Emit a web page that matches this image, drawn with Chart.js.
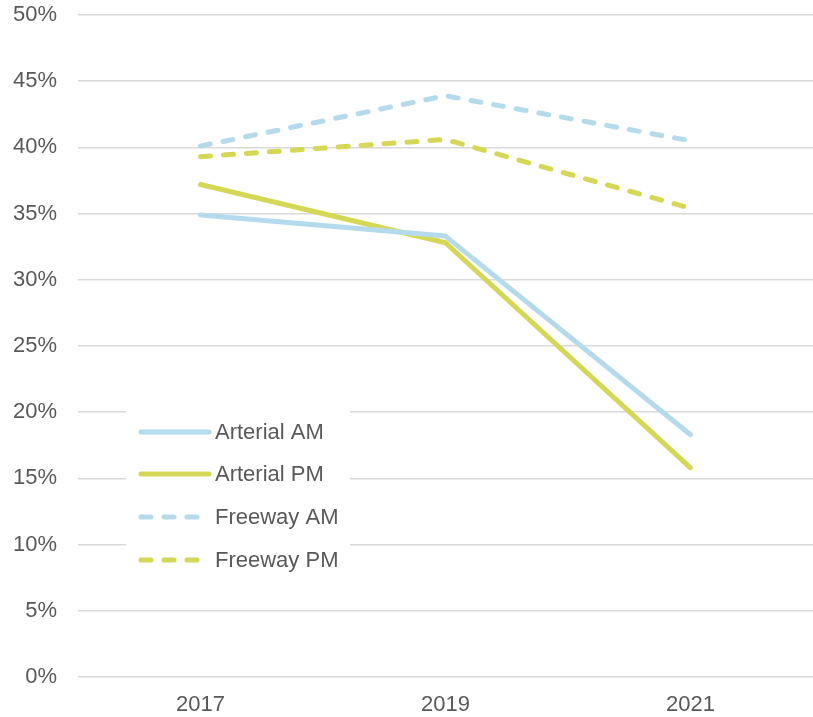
<!DOCTYPE html>
<html>
<head>
<meta charset="utf-8">
<script src="https://cdn.jsdelivr.net/npm/chart.js@4/dist/chart.umd.min.js"></script>
<style>
  html, body { margin: 0; padding: 0; background: #fff; }
  #wrap { position: relative; width: 813px; height: 717px; }
</style>
</head>
<body>
<div id="wrap"><canvas id="line-chart"></canvas></div>
<script>
// values (percent)
const years = ["2017", "2019", "2021"];
const arterialAM = [34.9, 33.3, 18.3];
const arterialPM = [37.2, 32.8, 15.8];
const freewayAM = [40.1, 43.9, 40.5];
const freewayPM = [39.3, 40.6, 35.4];
const yMin = 0, yMax = 50, yStep = 5;

const BLUE = "#b5daec";
const GREEN = "#d5d757";
const TEXT = "#595959";
const FONT = "'Liberation Sans', Arial, sans-serif";
const FONT_SIZE = 22;

function series(label, values, color, dashed) {
  return {
    label: label,
    data: values,
    borderColor: color,
    backgroundColor: color,
    borderWidth: 5,
    borderCapStyle: "round",
    borderJoinStyle: "round",
    borderDash: dashed ? [10, 13] : [],
    pointRadius: 0,
    pointHoverRadius: 0,
    tension: 0,
    fill: false,
  };
}

// legend sits inside the plot on a white box, like the original
const insideLegend = {
  id: "insideLegend",
  beforeDatasetsDraw(chart) {
    const ctx = chart.ctx;
    ctx.save();
    ctx.fillStyle = "#fff";
    ctx.fillRect(126, 404, 224, 178);
    const rows = [432, 474, 517, 560];
    chart.data.datasets.forEach((ds, i) => {
      const y = rows[i];
      ctx.beginPath();
      ctx.lineWidth = 5;
      ctx.lineCap = "round";
      ctx.strokeStyle = ds.borderColor;
      ctx.setLineDash(ds.borderDash.length ? [10, 13] : []);
      ctx.moveTo(141, y);
      ctx.lineTo(209, y);
      ctx.stroke();
      ctx.setLineDash([]);
      ctx.fillStyle = TEXT;
      ctx.font = FONT_SIZE + "px " + FONT;
      ctx.textBaseline = "middle";
      ctx.textAlign = "left";
      ctx.fillText(ds.label, 215, y + 1);
    });
    ctx.restore();
  },
};

new Chart(document.getElementById("line-chart").getContext("2d"), {
  type: "line",
  data: {
    labels: years,
    datasets: [
      series("Arterial AM", arterialAM, BLUE, false),
      series("Arterial PM", arterialPM, GREEN, false),
      series("Freeway AM", freewayAM, BLUE, true),
      series("Freeway PM", freewayPM, GREEN, true),
    ],
  },
  options: {
    responsive: true,
    maintainAspectRatio: false,
    animation: false,
    layout: { padding: { top: 15, right: 0, left: 0, bottom: 0 } },
    plugins: {
      legend: { display: false },
      tooltip: { enabled: false },
    },
    scales: {
      x: {
        offset: true,
        grid: { display: false, drawTicks: false },
        border: { display: false },
        ticks: { color: TEXT, font: { size: FONT_SIZE, family: FONT }, padding: 15 },
        afterFit(scale) { scale.height = 40; },
      },
      y: {
        min: yMin,
        max: yMax,
        ticks: {
          stepSize: yStep,
          color: TEXT,
          font: { size: FONT_SIZE, family: FONT },
          padding: 21,
          callback: (v) => v + "%",
        },
        grid: { color: "#d9d9d9", lineWidth: 1.5, drawTicks: false },
        border: { display: false },
        afterFit(scale) {
          scale.width = 78;
          scale.paddingTop = 0;
          scale.paddingBottom = 0;
        },
      },
    },
  },
  plugins: [insideLegend],
});
</script>
</body>
</html>
